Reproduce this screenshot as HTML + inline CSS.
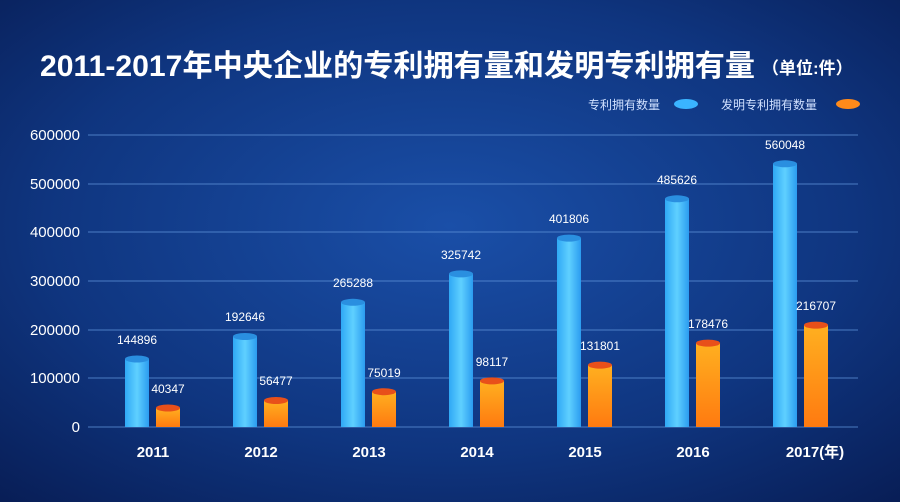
<!DOCTYPE html>
<html><head><meta charset="utf-8"><style>
body{margin:0;width:900px;height:502px;overflow:hidden;background:#0b2a6b}
svg{display:block}
text{font-family:"Liberation Sans","Noto Sans CJK SC",sans-serif}
</style></head><body>
<svg width="900" height="502" viewBox="0 0 900 502">
<defs>
<radialGradient id="bg" cx="0.5" cy="0.45" r="0.75">
<stop offset="0" stop-color="#1a4fa8"/><stop offset="0.6" stop-color="#0f357f"/><stop offset="1" stop-color="#081d55"/>
</radialGradient>
<linearGradient id="bl" x1="0" x2="1"><stop offset="0" stop-color="#2fa8f5"/><stop offset="0.5" stop-color="#5fd0ff"/><stop offset="1" stop-color="#2b9cf0"/></linearGradient>
<linearGradient id="or" x1="0" y1="0" x2="0" y2="1"><stop offset="0" stop-color="#ffb020"/><stop offset="1" stop-color="#ff7a10"/></linearGradient>
</defs>
<rect width="900" height="502" fill="url(#bg)"/>
<text x="40" y="76" font-size="30" font-weight="bold" fill="#fff" textLength="715" lengthAdjust="spacingAndGlyphs">2011-2017年中央企业的专利拥有量和发明专利拥有量</text>
<text x="762" y="74" font-size="17" font-weight="bold" fill="#fff">（单位:件）</text>
<text x="588" y="109" font-size="12" fill="#cfe0ff">专利拥有数量</text>
<ellipse cx="686" cy="104" rx="12" ry="5" fill="#3ab4ff"/>
<text x="721" y="109" font-size="12" fill="#cfe0ff">发明专利拥有数量</text>
<ellipse cx="848" cy="104" rx="12" ry="5" fill="#ff8a1a"/>
<g stroke="#5b8fd6" stroke-width="1" opacity="0.8">
<line x1="88" x2="858" y1="135" y2="135"/><line x1="88" x2="858" y1="184" y2="184"/>
<line x1="88" x2="858" y1="232" y2="232"/><line x1="88" x2="858" y1="281" y2="281"/>
<line x1="88" x2="858" y1="330" y2="330"/><line x1="88" x2="858" y1="378" y2="378"/>
<line x1="88" x2="858" y1="427" y2="427"/>
</g>
<g font-size="15" fill="#fff" text-anchor="end">
<text x="80" y="140">600000</text><text x="80" y="189">500000</text><text x="80" y="237">400000</text>
<text x="80" y="286">300000</text><text x="80" y="335">200000</text><text x="80" y="383">100000</text><text x="80" y="432">0</text>
</g>
<g>
<rect x="125" y="359" width="24" height="68" fill="url(#bl)"/><ellipse cx="137" cy="359" rx="12" ry="3.5" fill="#2a8fe0"/>
<rect x="233" y="336.5" width="24" height="90.5" fill="url(#bl)"/><ellipse cx="245" cy="336.5" rx="12" ry="3.5" fill="#2a8fe0"/>
<rect x="341" y="302.3" width="24" height="124.7" fill="url(#bl)"/><ellipse cx="353" cy="302.3" rx="12" ry="3.5" fill="#2a8fe0"/>
<rect x="449" y="273.9" width="24" height="153.1" fill="url(#bl)"/><ellipse cx="461" cy="273.9" rx="12" ry="3.5" fill="#2a8fe0"/>
<rect x="557" y="238.1" width="24" height="188.9" fill="url(#bl)"/><ellipse cx="569" cy="238.1" rx="12" ry="3.5" fill="#2a8fe0"/>
<rect x="665" y="198.8" width="24" height="228.2" fill="url(#bl)"/><ellipse cx="677" cy="198.8" rx="12" ry="3.5" fill="#2a8fe0"/>
<rect x="773" y="163.8" width="24" height="263.2" fill="url(#bl)"/><ellipse cx="785" cy="163.8" rx="12" ry="3.5" fill="#2a8fe0"/>
<rect x="156" y="408" width="24" height="19" fill="url(#or)"/><ellipse cx="168" cy="408" rx="12" ry="3.5" fill="#e8501a"/>
<rect x="264" y="400.5" width="24" height="26.5" fill="url(#or)"/><ellipse cx="276" cy="400.5" rx="12" ry="3.5" fill="#e8501a"/>
<rect x="372" y="391.7" width="24" height="35.3" fill="url(#or)"/><ellipse cx="384" cy="391.7" rx="12" ry="3.5" fill="#e8501a"/>
<rect x="480" y="380.9" width="24" height="46.1" fill="url(#or)"/><ellipse cx="492" cy="380.9" rx="12" ry="3.5" fill="#e8501a"/>
<rect x="588" y="365.1" width="24" height="61.9" fill="url(#or)"/><ellipse cx="600" cy="365.1" rx="12" ry="3.5" fill="#e8501a"/>
<rect x="696" y="343.1" width="24" height="83.9" fill="url(#or)"/><ellipse cx="708" cy="343.1" rx="12" ry="3.5" fill="#e8501a"/>
<rect x="804" y="325.1" width="24" height="101.9" fill="url(#or)"/><ellipse cx="816" cy="325.1" rx="12" ry="3.5" fill="#e8501a"/>
</g>
<g font-size="12" fill="#fff" text-anchor="middle">
<text x="137" y="344">144896</text><text x="245" y="321">192646</text><text x="353" y="287">265288</text>
<text x="461" y="259">325742</text><text x="569" y="223">401806</text><text x="677" y="184">485626</text><text x="785" y="149">560048</text>
<text x="168" y="393">40347</text><text x="276" y="385">56477</text><text x="384" y="377">75019</text>
<text x="492" y="366">98117</text><text x="600" y="350">131801</text><text x="708" y="328">178476</text><text x="816" y="310">216707</text>
</g>
<g font-size="15" font-weight="bold" fill="#fff" text-anchor="middle">
<text x="153" y="457">2011</text><text x="261" y="457">2012</text><text x="369" y="457">2013</text>
<text x="477" y="457">2014</text><text x="585" y="457">2015</text><text x="693" y="457">2016</text><text x="815" y="457">2017(年)</text>
</g>
</svg>
</body></html>
